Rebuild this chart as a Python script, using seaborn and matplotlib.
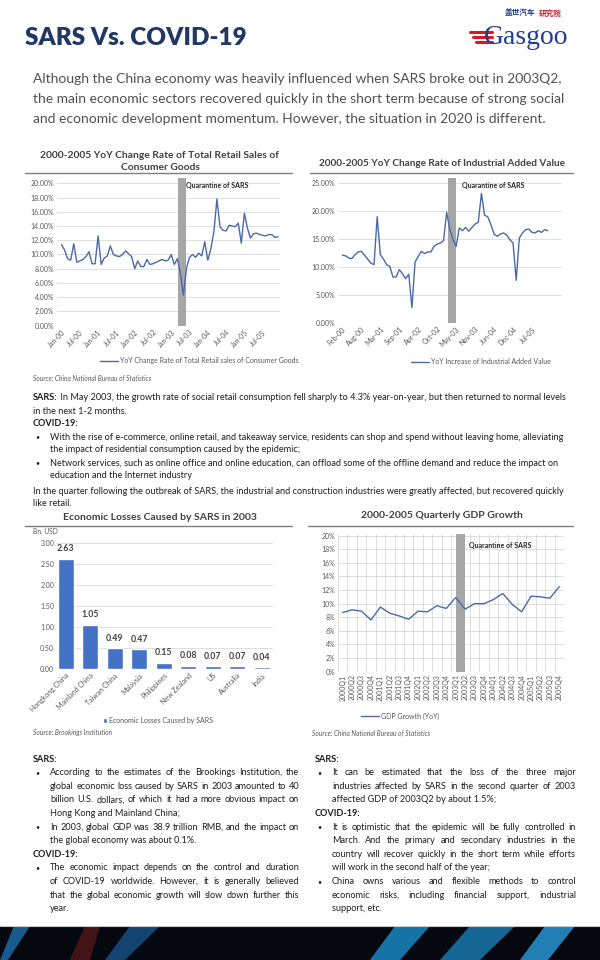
import matplotlib
matplotlib.use("Agg")
import matplotlib.pyplot as plt
from matplotlib.lines import Line2D
from matplotlib.patches import Rectangle, Polygon
import numpy as np
import pandas as pd
import seaborn as sns

sns.set_theme(style="white")
plt.rcParams["font.family"] = ["Lato", "Noto Sans CJK SC", "DejaVu Sans"]

# ---- data ----
retail_yoy = [11.4, 10.6, 9.4, 9.2, 11.5, 8.9, 9.1, 9.3, 9.7, 10.4, 8.7, 8.7,
              12.6, 8.6, 9.5, 9.8, 11.2, 10.0, 9.8, 9.7, 10.0, 10.5, 10.1, 9.7,
              8.0, 9.1, 8.3, 8.3, 9.3, 8.6, 8.7, 8.9, 9.1, 9.3, 9.1, 9.2,
              10.0, 8.6, 9.4, 7.4, 4.3, 8.1, 9.6, 10.0, 9.6, 10.2, 9.8, 11.8,
              9.2, 10.8, 13.2, 17.8, 13.9, 13.4, 13.3, 14.1, 14.0, 13.9, 14.4, 11.6,
              15.8, 13.7, 12.3, 12.9, 13.0, 12.8, 12.7, 12.6, 12.8, 12.8, 12.4, 12.5]
retail_ticks = ["Jan-00", "Jul-00", "Jan-01", "Jul-01", "Jan-02", "Jul-02",
                "Jan-03", "Jul-03", "Jan-04", "Jul-04", "Jan-05", "Jul-05"]

industry_yoy = [12.1, 12.0, 11.6, 11.5, 12.2, 12.7, 12.8, 12.1, 11.4, 10.7, 10.4,
                19.0, 12.2, 11.4, 10.4, 10.1, 8.2, 8.2, 9.5, 8.8, 7.9, 8.7,
                2.7, 10.9, 11.9, 12.8, 12.4, 12.7, 12.7, 13.7, 14.1, 14.3, 14.7,
                19.8, 16.7, 14.9, 13.7, 17.0, 16.5, 17.1, 16.4, 17.1, 17.7, 18.0,
                23.2, 19.3, 19.0, 17.6, 15.9, 15.5, 15.9, 16.1, 15.7, 14.9, 14.3,
                7.6, 15.2, 16.1, 16.7, 16.8, 16.2, 16.1, 16.5, 16.2, 16.7, 16.5]
industry_ticks = ["Feb-00", "Aug-00", "Mar-01", "Sep-01", "Apr-02", "Oct-02",
                  "May-03", "Nov-03", "Jun-04", "Dec-04", "Jul-05"]

loss_regions = ["Hongkong China", "Mainland China", "Taiwan China", "Malaysia",
                "Philippines", "New Zealand", "US", "Australia", "India"]
loss_values = [2.63, 1.05, 0.49, 0.47, 0.15, 0.08, 0.07, 0.07, 0.04]

quarters = ["2000Q1", "2000Q2", "2000Q3", "2000Q4", "2001Q1", "2001Q2",
            "2001Q3", "2001Q4", "2002Q1", "2002Q2", "2002Q3", "2002Q4",
            "2003Q1", "2003Q2", "2003Q3", "2003Q4", "2004Q1", "2004Q2",
            "2004Q3", "2004Q4", "2005Q1", "2005Q2", "2005Q3", "2005Q4"]
gdp_growth = [8.7, 9.1, 8.9, 7.6, 9.5, 8.6, 8.2, 7.7, 8.9, 8.8, 9.7, 9.3,
              10.9, 9.2, 10.0, 10.0, 10.6, 11.5, 9.9, 8.8, 11.1, 11.0, 10.8, 12.5]

W, H = 600, 960
LINE = "#4a6aa8"
SHADE = "#a6a6a6"
GRID = "#d9d9d9"
TICK = "#595959"
BODY = "#1e1e1e"

fig = plt.figure(figsize=(6, 9.6), dpi=100)
fig.patch.set_facecolor("white")
renderer = fig.canvas.get_renderer()


def add_axes(left, top, right, bottom):
    return fig.add_axes([left / W, 1 - bottom / H, (right - left) / W, (bottom - top) / H])


def put(x, y, s, **kw):
    kw.setdefault("va", "center")
    kw.setdefault("color", BODY)
    return fig.text(x / W, 1 - y / H, s, **kw)


def rule(x0, x1, y, color="#7f7f7f", lw=1.0):
    fig.add_artist(Line2D([x0 / W, x1 / W], [1 - y / H] * 2, color=color, lw=lw))


def width_px(t):
    return t.get_window_extent(renderer=renderer).width


def justified(x0, x1, y, line, **kw):
    words = line.split()
    arts = [put(x0, y, w, **kw) for w in words]
    widths = [width_px(a) for a in arts]
    gap = max((x1 - x0 - sum(widths)) / max(len(words) - 1, 1), 1.5)
    x = x0
    for a, w in zip(arts, widths):
        a.set_x(x / W)
        x += w + gap


def rich(x, y, parts, **kw):
    for s, weight in parts:
        t = put(x, y, s, fontweight=weight, **kw)
        x += width_px(t)


def style_axes(ax):
    sns.despine(ax=ax, left=True, bottom=True)
    ax.grid(axis="y", color=GRID, lw=0.6)
    ax.grid(axis="x", visible=False)
    ax.set_axisbelow(True)
    ax.tick_params(length=0, labelsize=5, labelcolor=TICK, pad=2)
    ax.set_xlabel("")
    ax.set_ylabel("")
    ax.set_facecolor("none")


def legend_below(ax, cx, cy, **kw):
    leg = ax.legend(loc="center", bbox_to_anchor=(cx / W, 1 - cy / H),
                    bbox_transform=fig.transFigure, frameon=False,
                    fontsize=5, labelcolor=TICK, handletextpad=0.3, **kw)
    return leg


# ---- header ----
put(25, 38, "SARS Vs. COVID-19", fontsize=17.5, fontweight="heavy", color="#1f3864")
put(484, 37, "Gasgoo", fontsize=20, color="#1f3f8f", family="Liberation Serif")
put(505, 13, "盖世汽车", fontsize=5.5, fontweight="bold", color="#1f3f8f",
    family=["Noto Sans CJK SC", "DejaVu Sans"])
put(539, 13, "研究院", fontsize=5.5, fontweight="bold", color="#d7182a",
    family=["Noto Sans CJK SC", "DejaVu Sans"])
for k, yy in enumerate([32, 37, 42]):
    rule(470 + 3 * k, 492, yy, color="#d7182a", lw=2.2)

intro = ["Although the China economy was heavily influenced when SARS broke out in 2003Q2,",
         "the main economic sectors recovered quickly in the short term because of strong social",
         "and economic development momentum. However, the situation in 2020 is different."]
for k, s in enumerate(intro):
    put(33, 79 + 20 * k, s, fontsize=10.0, color="#505050")

# ---- retail chart ----
put(160, 155, "2000-2005 YoY Change Rate of Total Retail Sales of", fontsize=7.4,
    fontweight="bold", color="#404040", ha="center")
put(160, 167, "Consumer Goods", fontsize=7.4, fontweight="bold", color="#404040", ha="center")
rule(25, 292, 173)

ax1 = add_axes(57, 178.3, 280, 325.7)
retail_df = pd.DataFrame({"month": np.arange(len(retail_yoy)), "yoy": retail_yoy})
ax1.axvspan(38.2, 40.8, color=SHADE, lw=0)
sns.lineplot(data=retail_df, x="month", y="yoy", color=LINE, lw=1.0, ax=ax1,
             label="YoY Change Rate of Total Retail sales of Consumer Goods")
ax1.set_ylim(0, 20.7)
ax1.set_xlim(-1.5, 71.7)
ax1.set_yticks(np.arange(0, 21, 2))
ax1.set_yticklabels([f"{v:.2f}%" for v in np.arange(0, 21, 2)])
ax1.set_xticks(np.arange(0, 72, 6))
ax1.set_xticklabels(retail_ticks, rotation=45, ha="right", rotation_mode="anchor")
style_axes(ax1)
ax1.text(40.9, 19.3, "Quarantine of SARS", fontsize=5, fontweight="bold", color="#262626")
legend_below(ax1, 199, 361, handlelength=2.6)
put(33, 378, "Source: China National Bureau of Statistics", fontsize=4.8,
    style="italic", color=TICK)

# ---- industrial chart ----
put(442, 163, "2000-2005 YoY Change Rate of Industrial Added Value", fontsize=7.2,
    fontweight="bold", color="#404040", ha="center")
rule(310, 573, 173)

ax2 = add_axes(338, 178.3, 562, 322.7)
industry_df = pd.DataFrame({"month": np.arange(len(industry_yoy)), "yoy": industry_yoy})
ax2.axvspan(33.4, 35.9, color=SHADE, lw=0)
sns.lineplot(data=industry_df, x="month", y="yoy", color=LINE, lw=1.0, ax=ax2,
             label="YoY Increase of Industrial Added Value")
ax2.set_ylim(0, 25.9)
ax2.set_xlim(-1.4, 69.5)
ax2.set_yticks(np.arange(0, 26, 5))
ax2.set_yticklabels([f"{v:.2f}%" for v in np.arange(0, 26, 5)])
ax2.set_xticks(np.arange(0, 66, 6))
ax2.set_xticklabels(industry_ticks, rotation=45, ha="right", rotation_mode="anchor")
style_axes(ax2)
ax2.text(38, 24.2, "Quarantine of SARS", fontsize=5, fontweight="bold", color="#262626")
legend_below(ax2, 481, 362, handlelength=2.6)

# ---- text block 1 ----
fs = 6.6
bs = 5.0
rich(33, 398, [("SARS:", "bold"), (" In May 2003, the growth rate of social retail consumption fell "
     "sharply to 4.3% year-on-year, but then returned to normal levels", "normal")], fontsize=fs)
put(33, 411, "in the next 1-2 months.", fontsize=fs)
put(33, 424, "COVID-19:", fontsize=fs, fontweight="bold")
put(35, 437, "•", fontsize=bs)
put(50, 437, "With the rise of e-commerce, online retail, and takeaway service, residents can shop "
    "and spend without leaving home, alleviating", fontsize=fs)
put(50, 450, "the impact of residential consumption caused by the epidemic;", fontsize=fs)
put(35, 463, "•", fontsize=bs)
put(50, 463, "Network services, such as online office and online education, can offload some of "
    "the offline demand and reduce the impact on", fontsize=fs)
put(50, 476, "education and the Internet industry", fontsize=fs)
put(33, 491, "In the quarter following the outbreak of SARS, the industrial and construction "
    "industries were greatly affected, but recovered quickly", fontsize=fs)
put(33, 504, "like retail.", fontsize=fs)

# ---- bar chart ----
put(160, 518, "Economic Losses Caused by SARS in 2003", fontsize=7.5,
    fontweight="bold", color="#404040", ha="center")
rule(25, 292, 526)
put(33, 532, "Bn. USD", fontsize=4.8, color=TICK)

ax3 = add_axes(57, 543, 273, 669)
sns.barplot(x=loss_regions, y=loss_values, color="#4472c4", saturation=1, width=0.65,
            ax=ax3, label="Economic Losses Caused by SARS")
ax3.set_ylim(0, 3.0)
ax3.set_xlim(-0.35, 8.45)
ax3.set_yticks(np.arange(0, 3.01, 0.5))
ax3.set_yticklabels([f"{v:.2f}" for v in np.arange(0, 3.01, 0.5)])
style_axes(ax3)
ax3.set_xticks(range(len(loss_regions)))
ax3.set_xticklabels(loss_regions, rotation=45, ha="right", rotation_mode="anchor")
ax3.bar_label(ax3.containers[0], fmt="%.2f", padding=4, fontsize=6.3,
              fontweight="bold", color="#404040")
legend_below(ax3, 158, 720, handlelength=0.7, handleheight=0.7)
put(33, 733, "Source: Brookings Institution", fontsize=4.8, style="italic", color=TICK)

# ---- GDP chart ----
put(442, 516, "2000-2005 Quarterly GDP Growth", fontsize=7.5,
    fontweight="bold", color="#404040", ha="center")
rule(308, 573, 526)

ax4 = add_axes(338, 534.3, 564, 671.7)
gdp_df = pd.DataFrame({"q": np.arange(len(gdp_growth)), "gdp": gdp_growth})
ax4.axvspan(12.0, 13.0, color=SHADE, lw=0, zorder=1)
sns.lineplot(data=gdp_df, x="q", y="gdp", color=LINE, lw=1.0, ax=ax4,
             label="GDP Growth (YoY)", zorder=3)
ax4.set_ylim(0, 20.2)
ax4.set_xlim(-0.5, 23.5)
ax4.set_yticks(np.arange(0, 21, 2))
ax4.set_yticklabels([f"{v}%" for v in range(0, 21, 2)])
ax4.set_xticks(range(len(quarters)))
ax4.set_xticklabels(quarters, rotation=90, ha="center", va="top")
style_axes(ax4)
ax4.set_xticks(np.arange(-0.5, 24, 1), minor=True)
ax4.grid(axis="x", which="minor", color=GRID, lw=0.6)
ax4.tick_params(which="minor", length=0)
ax4.text(13.4, 18.2, "Quarantine of SARS", fontsize=5, fontweight="bold", color="#262626")
legend_below(ax4, 400, 716, handlelength=2.6)
put(312, 733, "Source: China National Bureau of Statistics", fontsize=4.8,
    style="italic", color=TICK)

# ---- text block 2 (two justified columns) ----
step = 13.6
y0 = 759
put(33, y0, "SARS:", fontsize=fs, fontweight="bold")
left_col = [
    ("•", "According to the estimates of the Brookings Institution, the", True),
    ("", "global economic loss caused by SARS in 2003 amounted to 40", True),
    ("", "billion U.S. dollars, of which it had a more obvious impact on", True),
    ("", "Hong Kong and Mainland China;", False),
    ("•", "In 2003, global GDP was 38.9 trillion RMB, and the impact on", True),
    ("", "the global economy was about 0.1%.", False),
    (None, "COVID-19:", False),
    ("•", "The economic impact depends on the control and duration", True),
    ("", "of COVID-19 worldwide. However, it is generally believed", True),
    ("", "that the global economic growth will slow down further this", True),
    ("", "year.", False),
]
for k, (b, s, just) in enumerate(left_col, start=1):
    y = y0 + step * k
    if b is None:
        put(33, y, s, fontsize=fs, fontweight="bold")
        continue
    if b:
        put(35, y, b, fontsize=bs)
    if just:
        justified(50, 299, y, s, fontsize=fs)
    else:
        put(50, y, s, fontsize=fs)

put(315, y0, "SARS:", fontsize=fs, fontweight="bold")
right_col = [
    ("•", "It can be estimated that the loss of the three major", True),
    ("", "industries affected by SARS in the second quarter of 2003", True),
    ("", "affected GDP of 2003Q2 by about 1.5%;", False),
    (None, "COVID-19:", False),
    ("•", "It is optimistic that the epidemic will be fully controlled in", True),
    ("", "March. And the primary and secondary industries in the", True),
    ("", "country will recover quickly in the short term while efforts", True),
    ("", "will work in the second half of the year;", False),
    ("•", "China owns various and flexible methods to control", True),
    ("", "economic risks, including financial support, industrial", True),
    ("", "support, etc.", False),
]
for k, (b, s, just) in enumerate(right_col, start=1):
    y = y0 + step * k
    if b is None:
        put(315, y, s, fontsize=fs, fontweight="bold")
        continue
    if b:
        put(317, y, b, fontsize=bs)
    if just:
        justified(332, 576, y, s, fontsize=fs)
    else:
        put(332, y, s, fontsize=fs)

# ---- dark footer band ----
fig.add_artist(Rectangle((0, 0), 1, 34 / H, transform=fig.transFigure,
                         color="#05080e", lw=0))
for xs, col, a in [((0, 14, 30, 8), "#1f6fb0", 0.8), ((105, 130, 160, 125), "#1a5e9a", 0.7),
                   ((370, 395, 430, 400), "#1b8fd0", 0.8), ((440, 470, 515, 480), "#1b8fd0", 0.7),
                   ((520, 545, 575, 548), "#2a9ee0", 0.8), ((70, 85, 100, 90), "#6a1f1f", 0.6)]:
    pts = [(xs[0] / W, 0), (xs[1] / W, 34 / H), (xs[2] / W, 34 / H), (xs[3] / W, 0)]
    fig.add_artist(Polygon(pts, closed=True, transform=fig.transFigure,
                           color=col, alpha=a, lw=0))
rule(0, 600, 926, color="#c8c8c8", lw=0.8)

fig.savefig("out.png", dpi=100, facecolor="white")
